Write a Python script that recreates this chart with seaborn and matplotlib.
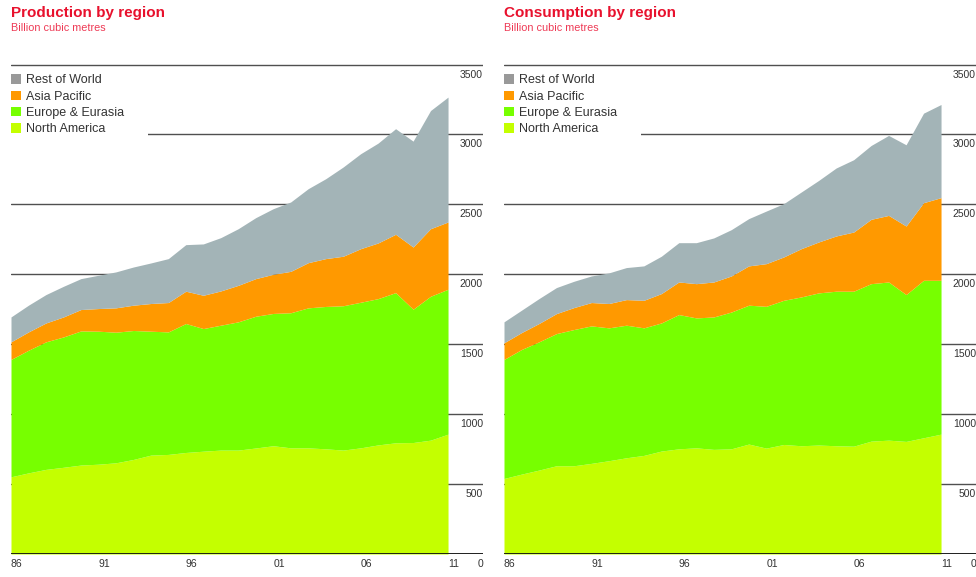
import matplotlib
matplotlib.use('Agg')
import matplotlib.pyplot as plt
import seaborn as sns
from matplotlib.patches import Patch
from matplotlib.transforms import ScaledTranslation

sns.set_theme(style='white')
plt.rcParams['font.family'] = ['Liberation Sans', 'DejaVu Sans']

# data (billion cubic metres), 1986-2011
years = list(range(1986, 2012))
regions = ['North America', 'Europe & Eurasia', 'Asia Pacific', 'Rest of World']
area_colours = ['#c4ff00', '#77ff00', '#ff9900', '#a3b4b7']
legend_colours = ['#c4ff00', '#77ff00', '#ff9900', '#999999']

prod_na = [552, 580, 605, 620, 636, 642, 652, 676, 707, 712, 726, 735, 743,
           743, 758, 774, 759, 759, 752, 743, 759, 780, 795, 797, 814, 857]
prod_ee = [839, 877, 912, 932, 959, 951, 934, 922, 886, 876, 922, 877, 893,
           917, 942, 946, 966, 1001, 1018, 1032, 1041, 1046, 1074, 953, 1029, 1036]
prod_ap = [126, 131, 135, 143, 153, 162, 174, 181, 198, 210, 231, 238, 245,
           261, 269, 280, 296, 323, 342, 354, 383, 398, 417, 445, 483, 481]
prod_row = [178, 191, 203, 219, 221, 238, 257, 273, 290, 314, 333, 367, 381,
            405, 436, 469, 496, 529, 571, 638, 679, 714, 755, 757, 845, 893]

cons_na = [540, 571, 600, 631, 631, 648, 667, 688, 705, 736, 752, 759, 748,
           752, 786, 757, 783, 774, 779, 774, 771, 807, 814, 805, 831, 857]
cons_ee = [851, 891, 917, 945, 974, 983, 950, 948, 912, 916, 960, 929, 947,
           978, 993, 1014, 1031, 1064, 1088, 1105, 1108, 1126, 1131, 1050, 1126, 1100]
cons_ap = [119, 121, 131, 143, 157, 167, 174, 183, 197, 210, 233, 245, 250,
           258, 281, 305, 310, 345, 364, 395, 423, 460, 476, 490, 555, 591]
cons_row = [150, 160, 178, 186, 188, 190, 219, 229, 246, 267, 281, 293, 315,
            331, 338, 376, 381, 405, 440, 486, 517, 528, 572, 581, 640, 666]

year_ticks = [1986, 1991, 1996, 2001, 2006, 2011]
year_labels = ['86', '91', '96', '01', '06', '11']
y_ticks = [0, 500, 1000, 1500, 2000, 2500, 3000, 3500]

title_red = '#e8112d'
sub_red = '#ee3a55'

fig = plt.figure(figsize=(9.76, 5.77), dpi=100)
W, H = 976, 577
ymax = 3520
ax_h = 489.5 * ymax / 3500
ax1 = fig.add_axes([11 / W, (H - 554) / H, 472 / W, ax_h / H])
ax2 = fig.add_axes([504 / W, (H - 554) / H, 472 / W, ax_h / H])


def panel(ax, data, title):
    ax.stackplot(years, *data, colors=area_colours, lw=0, zorder=2)
    ax.set_xlim(1986, 2013)
    ax.set_ylim(0, ymax)
    for s in ax.spines.values():
        s.set_visible(False)
    ax.set_axisbelow(True)
    ax.grid(axis='y', color='#505050', lw=1.0)
    ax.grid(axis='x', visible=False)
    ax.axhline(0, color='#111111', lw=1.3, zorder=3)

    ax.set_xticks(year_ticks)
    ax.set_xticklabels(year_labels)
    for lbl in ax.get_xticklabels():
        lbl.set_ha('left')
    ax.set_yticks(y_ticks)
    ax.set_yticklabels([str(v) for v in y_ticks])
    ax.yaxis.tick_right()
    ax.tick_params(axis='both', length=0, labelsize=7.5, labelcolor='#333333')
    ax.tick_params(axis='x', pad=3.5)
    ax.tick_params(axis='y', pad=0)
    off = ScaledTranslation(0, -5 / 100, fig.dpi_scale_trans)
    for lbl in ax.get_yticklabels():
        lbl.set_ha('right')
        lbl.set_va('top')
        lbl.set_transform(lbl.get_transform() + off)

    handles = [Patch(facecolor=legend_colours[i], edgecolor='none', label=regions[i])
               for i in [3, 2, 1, 0]]
    leg = ax.legend(handles=handles, loc='upper left',
                    bbox_to_anchor=(-0.008, 0, 0.298, 0.982), mode='expand',
                    fontsize=9, frameon=True, fancybox=False, framealpha=1,
                    borderpad=0.3, borderaxespad=0, handlelength=0.8,
                    handleheight=0.8, handletextpad=0.4, labelspacing=0.33)
    leg.get_frame().set_facecolor('white')
    leg.get_frame().set_edgecolor('none')
    for t in leg.get_texts():
        t.set_color('#333333')

    x0 = ax.get_position().x0
    fig.text(x0, 1 - 17 / H, title, fontsize=11, fontweight='bold',
             color=title_red, va='baseline', ha='left')
    fig.text(x0, 1 - 31 / H, 'Billion cubic metres', fontsize=7.8,
             color=sub_red, va='baseline', ha='left')


panel(ax1, [prod_na, prod_ee, prod_ap, prod_row], 'Production by region')
panel(ax2, [cons_na, cons_ee, cons_ap, cons_row], 'Consumption by region')

fig.savefig('out.png', dpi=100, facecolor='white')
